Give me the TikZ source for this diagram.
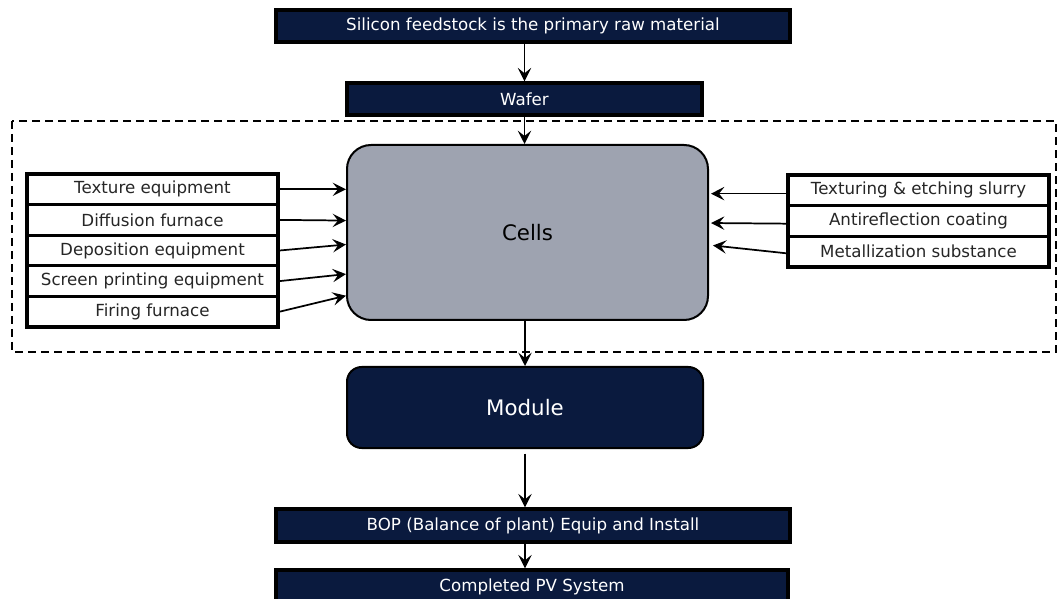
\documentclass[tikz,border=0pt]{standalone}
\usepackage{fontspec}
\setmainfont{DejaVu Sans}
\usetikzlibrary{arrows.meta}

\definecolor{navy}{RGB}{10,26,62}
\definecolor{cellgray}{RGB}{158,163,176}

\tikzset{every picture/.style={line width=0.75pt}}
\tikzset{
  navybox/.style={draw=black, line width=2.6pt, fill=navy, text=white, inner sep=0pt,
    font=\fontsize{12.5}{15}\selectfont},
  itembox/.style={draw=black, line width=2.4pt, fill=white, text=black!85, inner sep=0pt,
    font=\fontsize{12.5}{15}\selectfont},
  bigbox/.style={draw=black, line width=1.5pt, inner sep=0pt,
    font=\fontsize{16}{19}\selectfont},
  flow/.style={line width=1.3pt, -{Stealth[length=10pt,width=10pt,inset=4pt]}},
  leftcol/.style={itembox, minimum width=188.25pt, minimum height=22.95pt},
  rightcol/.style={itembox, minimum width=195.75pt, minimum height=23pt},
}

\begin{document}
\begin{tikzpicture}[x=0.75pt,y=0.75pt,yscale=-1,xscale=1]
\useasboundingbox (0,0) rectangle (1058,599);

%Shape: Dashed frame round the cell stage
\draw [dash pattern=on 6pt off 3.75pt, line width=1.4pt] (12,121) rectangle (1056,352);

% Text Node
\node [navybox, minimum width=385.5pt, minimum height=24pt] (feed) at (533,26) {Silicon feedstock is the primary raw material};
% Text Node
\node [navybox, minimum width=266.25pt, minimum height=24pt] (wafer) at (524.5,99) {Wafer};

%Shape: Rounded Rect
\node [bigbox, fill=cellgray, rounded corners=18pt, minimum width=270.75pt, minimum height=131.25pt] (cells) at (527.5,232.5) {Cells};
%Shape: Rounded Rect
\node [bigbox, fill=navy, text=white, rounded corners=11pt, minimum width=267pt, minimum height=60.75pt] (module) at (525,407.5) {Module};

% Text Node
\node [navybox, minimum width=385.5pt, minimum height=24.75pt] (bop) at (533,525.5) {BOP (Balance of plant) Equip and Install};
% Text Node
\node [navybox, minimum width=384pt, minimum height=25.5pt] (pvsys) at (532,587) {Completed PV System};

% Equipment column
\node [leftcol] (tex) at (152.5,189.3) {Texture equipment};
\node [leftcol] (diff) at (152.5,219.9) {Diffusion furnace};
\node [leftcol] (dep) at (152.5,250.5) {Deposition equipment};
\node [leftcol] (scr) at (152.5,281.1) {Screen printing equipment};
\node [leftcol] (fir) at (152.5,311.7) {Firing furnace};

% Materials column
\node [rightcol] (slurry) at (918.5,190.3) {Texturing \& etching slurry};
\node [rightcol] (arc) at (918.5,221) {Antireflection coating};
\node [rightcol] (metal) at (918.5,251.7) {Metallization substance};

%Straight Lines
\draw [flow] (feed.south -| wafer.north) -- (wafer.north);
\draw [flow] (wafer.south) -- (cells.north -| wafer.south);
\draw [flow] (cells.south -| module.north) -- (module.north);
\draw [flow, shorten <=3.5pt] (module.south) -- (bop.north -| module.south);
\draw [flow] (bop.south -| module.south) -- (pvsys.north -| module.south);

%Straight Lines (yshift runs downward here, as yscale=-1)
\draw [flow] (tex.east) -- (tex.east -| cells.west);
\draw [flow] (diff.east) -- ([yshift=0.5pt]diff.east -| cells.west);
\draw [flow] (dep.east) -- ([yshift=-4.5pt]dep.east -| cells.west);
\draw [flow] (scr.east) -- ([yshift=-5.25pt]scr.east -| cells.west);
\draw [flow] (fir.east) -- ([yshift=-12pt]fir.east -| cells.west);

%Straight Lines
\draw [flow, shorten >=1.5pt] ([yshift=2.5pt]slurry.west) -- ([yshift=2.5pt]slurry.west -| cells.east);
\draw [flow, shorten >=1.5pt] ([yshift=2pt]arc.west) -- ([yshift=1.5pt]arc.west -| cells.east);
\draw [flow, shorten >=3pt] ([yshift=1.2pt]metal.west) -- ([yshift=-5pt]metal.west -| cells.east);

\end{tikzpicture}
\end{document}
